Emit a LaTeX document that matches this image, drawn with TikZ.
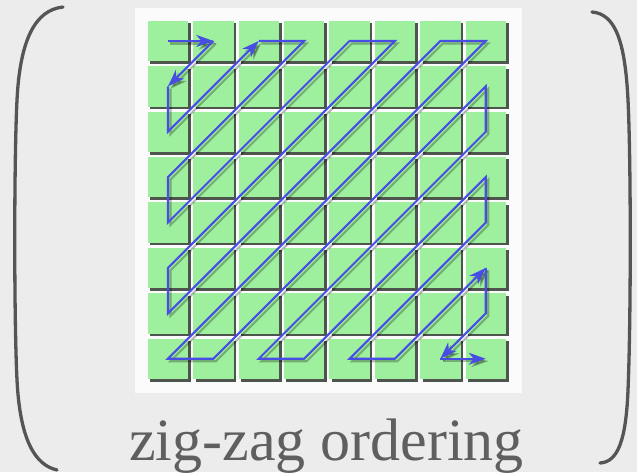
\documentclass[tikz,border=0pt]{standalone}
\usepackage{fontspec}
\setmainfont{Liberation Serif}
\usetikzlibrary{arrows.meta}
\definecolor{bgc}{RGB}{236,236,236}
\definecolor{panelc}{RGB}{251,251,251}
\definecolor{cellc}{RGB}{158,240,158}
\definecolor{shadc}{RGB}{78,84,78}
\definecolor{pathc}{RGB}{72,78,228}
\definecolor{brk}{RGB}{85,85,85}
\definecolor{txt}{RGB}{95,95,95}
\begin{document}
\begin{tikzpicture}[x=1pt,y=-1pt,
  cellbox/.style={fill=cellc, draw=none, minimum size=40.5pt, inner sep=0pt, anchor=north west},
  cellshadow/.style={fill=shadc, draw=none, minimum size=40.5pt, inner sep=0pt, anchor=north west},
  zz/.style={draw=pathc, line width=2.1pt, line join=miter},
  zzshadow/.style={draw=black, opacity=0.28, line width=2.1pt, transform canvas={shift={(2.5,2.5)}}},
  tip/.style={-{Stealth[length=17pt,width=12pt,inset=5pt]}},
  bracket/.style={draw=brk, line width=3.3pt, line cap=round},
  caption/.style={font=\fontsize{60}{60}\selectfont, text=txt, anchor=base, inner sep=0pt}]
\useasboundingbox (0,0) rectangle (637,472);
\fill[bgc] (0,0) rectangle (637,472);
% white panel
\node[fill=panelc, draw=none, minimum width=387pt, minimum height=385pt, inner sep=0pt, anchor=north west] (panel) at (135,8) {};
% grid of cells
\foreach \i in {0,...,7}{
  \foreach \j in {0,...,7}{
    \node[cellshadow] (sh-\i-\j) at ({147.5+45.4*\i+2.5},{20.5+45.4*\j+2.5}) {};
    \node[cellbox] (cell-\i-\j) at ({147.5+45.4*\i},{20.5+45.4*\j}) {};
    \coordinate (p-\i-\j) at (cell-\i-\j.center);
  }
}
% zig-zag path (shadow then line)
\foreach \sty in {zzshadow,zz}{
  \draw[\sty,tip] (p-0-0) -- (p-1-0);
  \draw[\sty,tip] (p-1-0) -- (p-0-1);
  \draw[\sty,tip] (p-0-1) -- (p-0-2) -- (p-2-0);
  \draw[\sty,tip] (p-2-0) -- (p-3-0) -- (p-0-3) -- (p-0-4) -- (p-4-0) -- (p-5-0) -- (p-0-5)
     -- (p-0-6) -- (p-6-0) -- (p-7-0) -- (p-0-7) -- (p-1-7) -- (p-7-1) -- (p-7-2) -- (p-2-7)
     -- (p-3-7) -- (p-7-3) -- (p-7-4) -- (p-4-7) -- (p-5-7) -- (p-7-5);
  \draw[\sty,tip] (p-7-5) -- (p-7-6) -- (p-6-7);
  \draw[\sty,tip] (p-6-7) -- (p-7-7);
}
% brackets
\draw[bracket] (63,7) .. controls (35,10) and (20,40) .. (17,100)
  .. controls (14,160) and (14,320) .. (17,380)
  .. controls (20,440) and (35,465) .. (57,470);
\draw[bracket] (592,12) .. controls (615,14) and (625,40) .. (628,100)
  .. controls (631,160) and (631,320) .. (628,390)
  .. controls (626,440) and (618,462) .. (600,463);
% caption
\node[caption] (cap) at (326.5,460) {zig-zag ordering};
\end{tikzpicture}
\end{document}
